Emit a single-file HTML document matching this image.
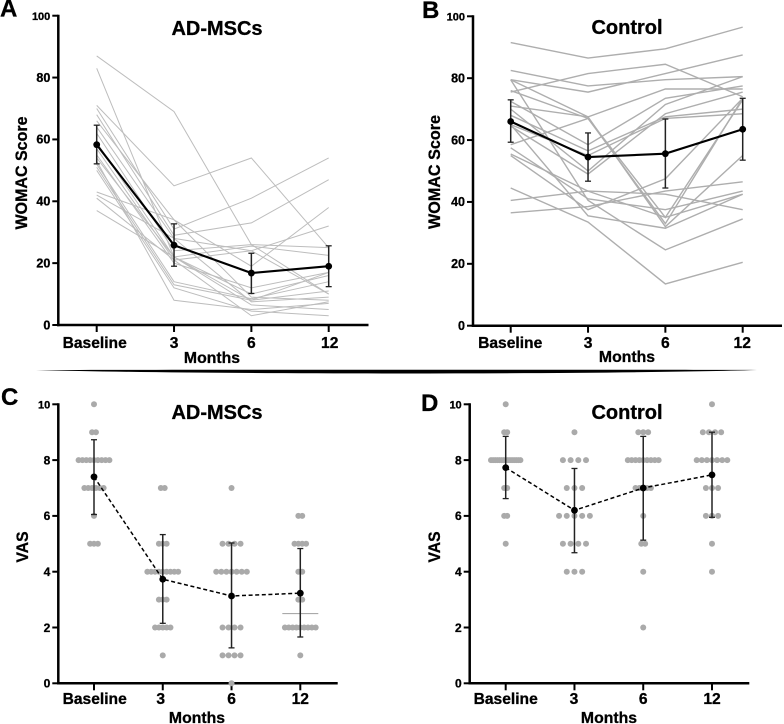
<!DOCTYPE html>
<html lang="en">
<head>
<meta charset="utf-8">
<title>WOMAC and VAS scores: AD-MSCs vs Control</title>
<style>
html,body{margin:0;padding:0;background:#fff;width:784px;height:724px;overflow:hidden}
svg{display:block;filter:blur(.35px)}
text{font-family:"Liberation Sans",Arial,sans-serif;font-weight:700;fill:#000;stroke:#000;stroke-width:.3px}
</style>
</head>
<body>
<svg id="figure" xmlns="http://www.w3.org/2000/svg" width="784" height="724" viewBox="0 0 784 724">
  <rect width="784" height="724" fill="#fff"/>
  <path d="M36 370 C200 369.6 600 369.6 757 370 C600 374.6 200 374.6 36 370Z" fill="#000"/>

  <text x="0" y="16.5" font-size="24">A</text>
  <text x="422" y="18" font-size="24">B</text>
  <text x="1" y="405" font-size="24">C</text>
  <text x="421" y="411" font-size="24">D</text>

  <text x="217" y="35" font-size="20" text-anchor="middle">AD-MSCs</text>
  <text x="627" y="34" font-size="20" text-anchor="middle">Control</text>
  <text x="217" y="419" font-size="20" text-anchor="middle">AD-MSCs</text>
  <text x="627" y="419" font-size="20" text-anchor="middle">Control</text>

  <text transform="translate(27 173) rotate(-90)" font-size="16.5" text-anchor="middle" textLength="113" lengthAdjust="spacingAndGlyphs">WOMAC Score</text>
  <text transform="translate(440 172) rotate(-90)" font-size="16.5" text-anchor="middle" textLength="114" lengthAdjust="spacingAndGlyphs">WOMAC Score</text>
  <text transform="translate(28 547) rotate(-90)" font-size="16.5" text-anchor="middle" textLength="31" lengthAdjust="spacingAndGlyphs">VAS</text>
  <text transform="translate(440 547) rotate(-90)" font-size="16.5" text-anchor="middle" textLength="31" lengthAdjust="spacingAndGlyphs">VAS</text>

  <text x="212" y="363" font-size="15.8" text-anchor="middle">Months</text>
  <text x="627" y="362" font-size="15.8" text-anchor="middle">Months</text>
  <text x="197" y="723" font-size="15.8" text-anchor="middle">Months</text>
  <text x="609" y="723" font-size="15.8" text-anchor="middle">Months</text>
</svg>
<script>
// ---------- shared categories and tick labels ----------
const categories = ['Baseline', '3', '6', '12'];
const womacTicks = [0, 20, 40, 60, 80, 100];
const vasTicks = [0, 2, 4, 6, 8, 10];

// ---------- Panel A: WOMAC, AD-MSCs ----------
const aSubjects = [
  [87, 69, 26, 10], [83, 22, 8, 17], [71, 45, 54, 25], [70, 31, 41, 54],
  [68, 29, 33, 47], [66, 34, 19, 38], [64, 28, 24, 32], [62, 24, 26, 25],
  [59, 22, 25.5, 22.5], [57, 21, 24, 10], [55, 20, 12, 17], [54, 22, 10, 16],
  [52, 14, 8.5, 14], [51, 13, 8, 11], [43, 34, 9, 8], [42, 28, 7.5, 9],
  [41, 21, 3, 7.5], [37, 22, 6.5, 5], [50, 12, 4.5, 3], [53, 8, 5, 7]
];
const aMean = [58.3, 25.8, 16.8, 19];
const aUpper = [64.6, 32.7, 23.2, 25.6];
const aLower = [52.1, 19, 10.2, 12.4];

// ---------- Panel B: WOMAC, Control ----------
const bSubjects = [
  [91.5, 86.5, 89.5, 96.5], [75.5, 81.5, 84.5, 74], [82.5, 77.5, 79.5, 80.5],
  [79.5, 75.5, 81.5, 87.5], [79.5, 67.5, 76.5, 76.5], [76, 67, 33, 73.5],
  [72.5, 58.5, 73.5, 77.5], [71, 67.5, 32, 55], [70, 50, 71.5, 80.5],
  [68, 56.5, 67.5, 70], [65, 55, 67, 68.5], [64.5, 49, 68.5, 75.5],
  [55, 37.5, 47.5, 73.5], [58.5, 67, 35, 73], [57.5, 41, 37.5, 43.5],
  [55.5, 43.5, 35, 42.5], [44.5, 33.5, 13.5, 20.5], [40.5, 43.5, 42.5, 37.5],
  [36.5, 38.5, 43.5, 46.5], [65, 35.5, 31.5, 42.5], [79.5, 40.5, 24.5, 34.5]
];
const bMean = [66, 54.5, 55.6, 63.5];
const bUpper = [73, 62.3, 66.8, 73.5];
const bLower = [59.3, 46.7, 44.5, 53.5];

// ---------- Panel C: VAS, AD-MSCs (score levels and patient counts) ----------
const cLevels = [
  [10, 9, 8, 7, 6, 5],
  [7, 5, 4, 3, 2, 1],
  [7, 5, 4, 2, 1, 0],
  [6, 5, 4, 3, 2, 1]
];
const cCounts = [
  [1, 2, 9, 6, 1, 3],
  [2, 3, 9, 3, 5, 1],
  [1, 4, 7, 4, 4, 1],
  [2, 4, 2, 2, 9, 1]
];
const cMean = [7.4, 3.73, 3.13, 3.23];
const cUpper = [8.73, 5.33, 5.03, 4.83];
const cLower = [6.05, 2.15, 1.27, 1.66];
const cReferenceValue = [2.5];

// ---------- Panel D: VAS, Control ----------
const dLevels = [
  [10, 9, 8, 7, 6, 5],
  [9, 8, 7, 6, 5, 4],
  [9, 8, 7, 6, 5, 4, 2],
  [10, 9, 8, 7, 6, 5, 4]
];
const dCounts = [
  [1, 2, 15, 2, 2, 1],
  [1, 4, 3, 5, 4, 3],
  [3, 9, 5, 1, 2, 1, 1],
  [1, 4, 7, 3, 3, 1, 1]
];
const dMean = [7.73, 6.2, 7, 7.47];
const dUpper = [8.85, 7.7, 8.85, 9];
const dLower = [6.62, 4.68, 5.13, 5.95];

// ---------- layout and drawing (no data below) ----------
const NS = 'http://www.w3.org/2000/svg';
const svg = document.getElementById('figure');

function make(parent, tag, attrs, name) {
  const el = document.createElementNS(NS, tag);
  for (const k in attrs) el.setAttribute(k, attrs[k]);
  
  
  parent.appendChild(el);
  return el;
}

function linearAxis(d0, d1, p0, p1) {
  return v => p0 + (v - d0) / (d1 - d0) * (p1 - p0);
}

function drawAxes(g, p, ticks, scaleY, scaleX, fontFor) {
  make(g, 'line', {x1: p.axisX, x2: p.axisX, y1: scaleY(ticks[ticks.length - 1]) - 1, y2: p.y0 + 1.2, stroke: '#000', 'stroke-width': 2.5}, 'y-axis-line');
  make(g, 'line', {x1: p.axisX - 1.2, x2: p.axisEnd, y1: p.y0, y2: p.y0, stroke: '#000', 'stroke-width': 2.5}, 'x-axis-line');
  ticks.forEach(t => {
    const y = scaleY(t);
    make(g, 'line', {x1: p.axisX - 6, x2: p.axisX, y1: y, y2: y, stroke: '#000', 'stroke-width': 2}, 'y-tick-' + t);
    const label = make(g, 'text', {x: p.axisX - 8, y: y + 4.3, 'font-size': fontFor(t), 'text-anchor': 'end'}, 'y-tick-label-' + t);
    label.textContent = t;
  });
  categories.forEach((c, i) => {
    const x = scaleX(i);
    make(g, 'line', {x1: x, x2: x, y1: p.y0, y2: p.y0 + 7, stroke: '#000', 'stroke-width': 2}, 'x-tick-' + c.toLowerCase());
    const label = make(g, 'text', {x: x + p.labelShift[i], y: p.labelY, 'font-size': 15.6, 'text-anchor': 'middle'}, 'x-tick-label-' + c.toLowerCase());
    label.textContent = c;
  });
}

function drawErrorBars(g, upper, lower, scaleX, scaleY, width) {
  upper.forEach((u, i) => {
    const x = scaleX(i), yU = scaleY(u), yL = scaleY(lower[i]);
    make(g, 'line', {x1: x, x2: x, y1: yU, y2: yL, stroke: '#222', 'stroke-width': width}, 'error-bar-' + categories[i].toLowerCase());
    make(g, 'line', {x1: x - 3, x2: x + 3, y1: yU, y2: yU, stroke: '#222', 'stroke-width': 1.3}, 'error-cap-upper-' + categories[i].toLowerCase());
    make(g, 'line', {x1: x - 3, x2: x + 3, y1: yL, y2: yL, stroke: '#222', 'stroke-width': 1.3}, 'error-cap-lower-' + categories[i].toLowerCase());
  });
}

function drawMean(g, mean, scaleX, scaleY, lineAttrs) {
  const pts = mean.map((m, i) => scaleX(i) + ',' + scaleY(m)).join(' ');
  make(g, 'polyline', Object.assign({points: pts, fill: 'none', stroke: '#000'}, lineAttrs), 'mean-line');
  mean.forEach((m, i) => {
    make(g, 'circle', {cx: scaleX(i), cy: scaleY(m), r: 3.4, fill: '#000'}, 'mean-point-' + categories[i].toLowerCase());
  });
}

function drawWomac(p, subjects, mean, upper, lower, id) {
  const g = make(svg, 'g', {}, 'womac-chart-' + id);
  const scaleX = linearAxis(0, 3, p.x0, p.x3);
  const scaleY = linearAxis(0, 100, p.y0, p.yTop);
  drawAxes(g, p, womacTicks, scaleY, scaleX, t => (t === 100 ? 11 : 12.5));
  subjects.forEach((s, n) => {
    const pts = s.map((v, i) => scaleX(i) + ',' + scaleY(v)).join(' ');
    make(g, 'polyline', {points: pts, fill: 'none', stroke: p.lineColor, 'stroke-width': p.lineWidth}, 'subject-line-' + (n + 1));
  });
  drawErrorBars(g, upper, lower, scaleX, scaleY, 1.5);
  drawMean(g, mean, scaleX, scaleY, {'stroke-width': 2.1});
}

function drawVas(p, levels, counts, mean, upper, lower, id) {
  const g = make(svg, 'g', {}, 'vas-chart-' + id);
  const scaleX = linearAxis(0, 3, p.x0, p.x3);
  const scaleY = linearAxis(0, 10, p.y0, p.yTop);
  drawAxes(g, p, vasTicks, scaleY, scaleX, t => (t === 10 ? 11 : 12));
  levels.forEach((row, i) => {
    row.forEach((lv, r) => {
      const n = counts[i][r];
      const gap = p.dotGap(i, lv, n);
      for (let k = 0; k < n; k++) {
        make(g, 'circle', {cx: scaleX(i) + (k - (n - 1) / 2) * gap, cy: scaleY(lv), r: 3, fill: '#aaa'}, 'patient-dot');
      }
    });
  });
  if (id === 'c') {
    const x = scaleX(3), y = scaleY(cReferenceValue[0]);
    make(g, 'line', {x1: x - 18, x2: x + 18, y1: y, y2: y, stroke: '#aaa', 'stroke-width': 1.2}, 'reference-line-12-months');
  }
  drawErrorBars(g, upper, lower, scaleX, scaleY, 1.5);
  drawMean(g, mean, scaleX, scaleY, {'stroke-width': 1.5, 'stroke-dasharray': '4 2.6'});
}

drawWomac({axisX: 58.3, axisEnd: 368.5, x0: 96.7, x3: 328.7, y0: 325, yTop: 15.7, labelY: 348, labelShift: [-2, 0, 0, 1],
  lineColor: '#bdbdbd', lineWidth: 1}, aSubjects, aMean, aUpper, aLower, 'a');

drawWomac({axisX: 473, axisEnd: 782, x0: 510.7, x3: 742.7, y0: 325.7, yTop: 16.3, labelY: 348, labelShift: [-0.5, 0, 0, -0.5],
  lineColor: '#aeaeae', lineWidth: 1.4}, bSubjects, bMean, bUpper, bLower, 'b');

drawVas({axisX: 58.3, axisEnd: 337.7, x0: 94, x3: 300.3, y0: 683.3, yTop: 404.3, labelY: 704, labelShift: [0.7, -2, 0, 0],
  dotGap: (i, lv, n) => (i === 2 ? (n === 7 ? 5.1 : 6) : (n === 1 ? 0 : 3.85))}, cLevels, cCounts, cMean, cUpper, cLower, 'c');

drawVas({axisX: 469.7, axisEnd: 749.3, x0: 505.7, x3: 712, y0: 683.3, yTop: 404.3, labelY: 704, labelShift: [0, -0.5, 0, 0],
  dotGap: (i, lv, n) => {
    if (i === 1) return 7.7;
    if (i === 0) return n === 15 ? 2.1 : 3;
    if (i === 2) return n === 3 ? 4.9 : 3.85;
    return n === 7 ? 5.1 : 6.1;
  }}, dLevels, dCounts, dMean, dUpper, dLower, 'd');
</script>
</body>
</html>
